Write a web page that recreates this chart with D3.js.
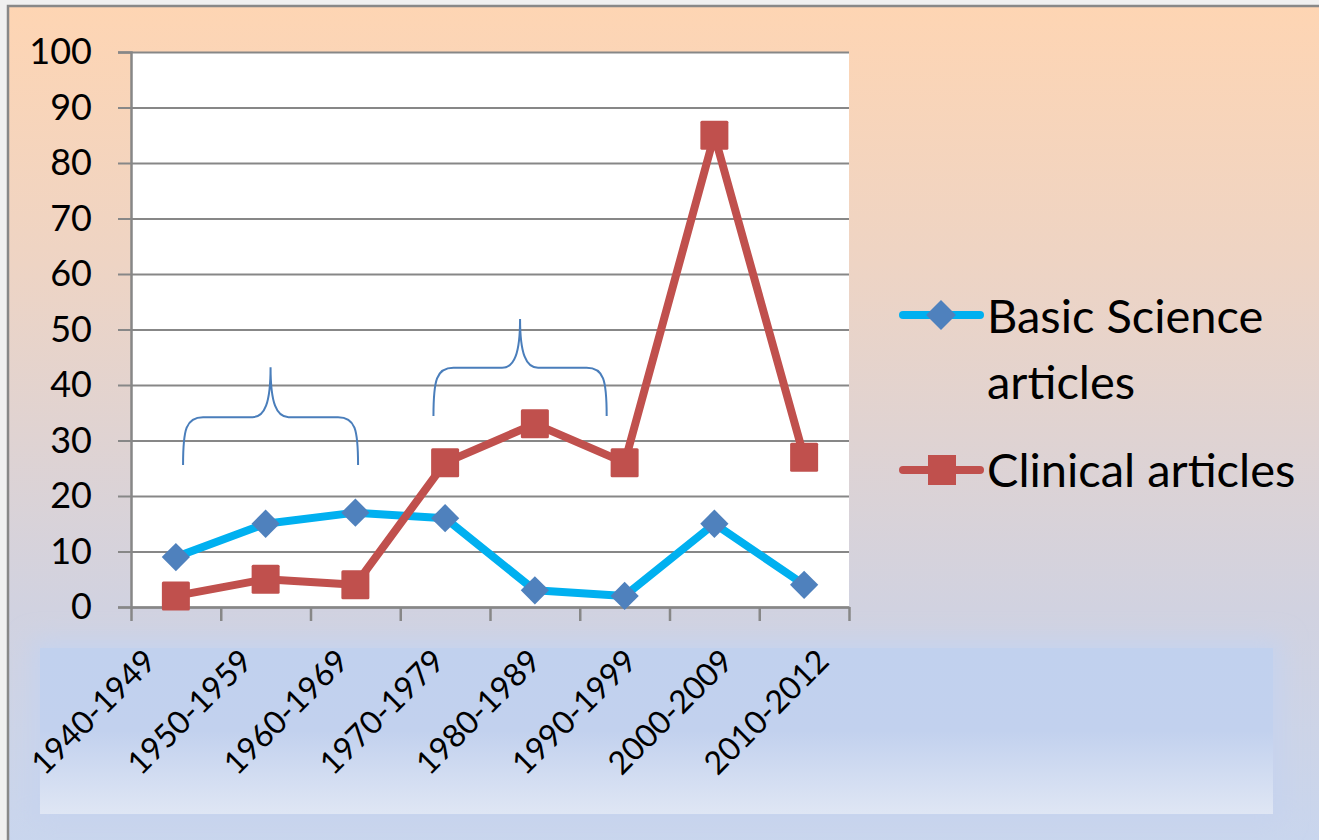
<!DOCTYPE html>
<html>
<head>
<meta charset="utf-8">
<script src="https://cdn.jsdelivr.net/npm/d3@7"></script>
<style>
  body { margin: 0; background: #f0f0f0; }
  svg { display: block; }
</style>
</head>
<body>
<div id="chart"></div>
<script>
// data
var categories = ["1940-1949", "1950-1959", "1960-1969", "1970-1979",
                  "1980-1989", "1990-1999", "2000-2009", "2010-2012"];
var basicScience = [9, 15, 17, 16, 3, 2, 15, 4];
var clinical = [2, 5, 4, 26, 33, 26, 85, 27];
var yTicks = [0, 10, 20, 30, 40, 50, 60, 70, 80, 90, 100];
var seriesNames = ["Basic Science articles", "Clinical articles"];

// hand drawn braces, in category index / value units
var braces = [
  { from: 0.08, to: 2.03, end: 25.6, bar: 34.2, tip: 43.2 },
  { from: 2.87, to: 4.80, end: 34.4, bar: 43.1, tip: 51.9 }
];

var W = 1319, H = 840;
var plot = { left: 131, top: 52, width: 718, height: 555 };
var font = "Lato, 'Open Sans', sans-serif";

var svg = d3.select("#chart").append("svg")
  .attr("width", W)
  .attr("height", H);

var defs = svg.append("defs");

var bg = defs.append("linearGradient").attr("id", "bg")
  .attr("x1", 0).attr("y1", 0).attr("x2", 0).attr("y2", 1);
bg.append("stop").attr("offset", "0%").attr("stop-color", "#fed5b3");
bg.append("stop").attr("offset", "30%").attr("stop-color", "#eed4c4");
bg.append("stop").attr("offset", "70%").attr("stop-color", "#d1d2e0");
bg.append("stop").attr("offset", "100%").attr("stop-color", "#c8d6ef");

var band = defs.append("linearGradient").attr("id", "band")
  .attr("x1", 0).attr("y1", 0).attr("x2", 0).attr("y2", 1);
band.append("stop").attr("offset", "0%").attr("stop-color", "#c1d1ee");
band.append("stop").attr("offset", "50%").attr("stop-color", "#c2d1ee");
band.append("stop").attr("offset", "100%").attr("stop-color", "#dfe6f4");

defs.append("filter").attr("id", "soft")
  .attr("x", "-10%").attr("y", "-30%").attr("width", "120%").attr("height", "160%")
  .append("feGaussianBlur").attr("stdDeviation", 12);

// chart area background with its border
svg.append("rect")
  .attr("x", 8).attr("y", 6)
  .attr("width", W + 20).attr("height", H + 20)
  .attr("fill", "url(#bg)")
  .attr("stroke", "#888")
  .attr("stroke-width", 2.5);

// pale band under the category labels
svg.append("rect")
  .attr("x", 32).attr("y", 640).attr("width", 1250).attr("height", 182)
  .attr("fill", "#c6d3ee")
  .attr("filter", "url(#soft)");
svg.append("rect")
  .attr("x", 40).attr("y", 648).attr("width", 1233).attr("height", 166)
  .attr("fill", "url(#band)");

// scales
var x = d3.scaleBand().domain(categories).range([0, plot.width]);
var xi = d3.scaleLinear().domain([0, categories.length]).range([0, plot.width]);
var y = d3.scaleLinear().domain([0, 100]).range([plot.height, 0]);

var g = svg.append("g")
  .attr("transform", "translate(" + plot.left + "," + plot.top + ")");

g.append("rect")
  .attr("width", plot.width).attr("height", plot.height)
  .attr("fill", "#fff");

// gridlines
g.append("g")
  .call(d3.axisLeft(y).tickValues(yTicks).tickSize(-plot.width).tickFormat(""))
  .call(function (s) {
    s.select(".domain").remove();
    s.selectAll("line").attr("stroke", "#878787").attr("stroke-width", 2);
  });

// y axis
g.append("g")
  .call(d3.axisLeft(y).tickValues(yTicks).tickSize(13).tickPadding(26))
  .call(function (s) {
    s.select(".domain").attr("stroke", "#878787").attr("stroke-width", 2.5);
    s.selectAll("line").attr("stroke", "#878787").attr("stroke-width", 2);
    s.selectAll("text")
      .attr("font-family", font)
      .attr("font-size", 36)
      .attr("fill", "#000");
  });

// x axis: ticks sit on the category boundaries
g.append("g")
  .attr("transform", "translate(0," + plot.height + ")")
  .call(d3.axisBottom(xi).tickValues(d3.range(categories.length + 1))
    .tickSize(14).tickSizeOuter(0).tickFormat(""))
  .call(function (s) {
    s.select(".domain").attr("stroke", "#878787").attr("stroke-width", 2.5);
    s.selectAll("line").attr("stroke", "#878787").attr("stroke-width", 2.5);
  });

// category labels, spread a little wider than the categories like the original
var xLabel = d3.scalePoint().domain(categories).range([27, 700]);
g.append("g")
  .selectAll("text")
  .data(categories)
  .join("text")
  .attr("transform", function (d) {
    return "translate(" + xLabel(d) + "," + (plot.height + 56) + ") rotate(-45)";
  })
  .attr("text-anchor", "end")
  .attr("font-family", font)
  .attr("font-size", 32)
  .attr("fill", "#000")
  .text(function (d) { return d; });

// braces
var brace = function (b) {
  var x0 = xi(b.from + 0.5), x1 = xi(b.to + 0.5), xm = (x0 + x1) / 2;
  var ye = y(b.end), yb = y(b.bar), yt = y(b.tip);
  return "M" + x0 + "," + ye +
    "C" + x0 + "," + (yb + 12) + " " + (x0 + 3) + "," + yb + " " + (x0 + 20) + "," + yb +
    "L" + (xm - 18) + "," + yb +
    "C" + (xm - 6) + "," + yb + " " + xm + "," + (yb - 14) + " " + xm + "," + yt +
    "C" + xm + "," + (yb - 14) + " " + (xm + 6) + "," + yb + " " + (xm + 18) + "," + yb +
    "L" + (x1 - 20) + "," + yb +
    "C" + (x1 - 3) + "," + yb + " " + x1 + "," + (yb + 12) + " " + x1 + "," + ye;
};
g.selectAll(".brace")
  .data(braces)
  .join("path")
  .attr("class", "brace")
  .attr("d", brace)
  .attr("fill", "none")
  .attr("stroke", "#4a7ebb")
  .attr("stroke-width", 2);

var cx = function (d, i) { return x(categories[i]) + x.bandwidth() / 2; };
var line = d3.line().x(cx).y(function (d) { return y(d); });

// basic science series
g.append("path")
  .attr("d", line(basicScience))
  .attr("fill", "none")
  .attr("stroke", "#00b0f0")
  .attr("stroke-width", 8)
  .attr("stroke-linejoin", "round");

// clinical series
g.append("path")
  .attr("d", line(clinical))
  .attr("fill", "none")
  .attr("stroke", "#c0504d")
  .attr("stroke-width", 8)
  .attr("stroke-linejoin", "round");

var diamond = d3.symbol().type(d3.symbolSquare).size(400);
g.selectAll(".dia")
  .data(basicScience)
  .join("path")
  .attr("class", "dia")
  .attr("d", diamond)
  .attr("transform", function (d, i) {
    return "translate(" + cx(d, i) + "," + y(d) + ") rotate(45)";
  })
  .attr("fill", "#4f81bd");

g.selectAll(".sq")
  .data(clinical)
  .join("rect")
  .attr("class", "sq")
  .attr("x", function (d, i) { return cx(d, i) - 14; })
  .attr("y", function (d) { return y(d) - 14.5; })
  .attr("width", 28).attr("height", 29)
  .attr("rx", 1.5)
  .attr("fill", "#c0504d");

// legend
var legendFont = 47;
var legend = svg.append("g").attr("transform", "translate(903,0)");
var lb = legend.append("g").attr("transform", "translate(0,315)");
lb.append("line").attr("x1", 0).attr("x2", 77)
  .attr("stroke", "#00b0f0").attr("stroke-width", 8).attr("stroke-linecap", "round");
lb.append("path").attr("d", d3.symbol().type(d3.symbolSquare).size(450))
  .attr("transform", "translate(38,0) rotate(45)")
  .attr("fill", "#4f81bd");
lb.append("text").attr("x", 84).attr("y", 18)
  .attr("font-family", font).attr("font-size", legendFont)
  .text(seriesNames[0].split(" ").slice(0, 2).join(" "));
lb.append("text").attr("x", 84).attr("y", 84)
  .attr("font-family", font).attr("font-size", legendFont)
  .text(seriesNames[0].split(" ").slice(2).join(" "));

var lc = legend.append("g").attr("transform", "translate(0,470)");
lc.append("line").attr("x1", 0).attr("x2", 77)
  .attr("stroke", "#c0504d").attr("stroke-width", 8).attr("stroke-linecap", "round");
lc.append("rect").attr("x", 25).attr("y", -15).attr("width", 28).attr("height", 30)
  .attr("fill", "#c0504d");
lc.append("text").attr("x", 84).attr("y", 17)
  .attr("font-family", font).attr("font-size", legendFont)
  .text(seriesNames[1]);
</script>
</body>
</html>
